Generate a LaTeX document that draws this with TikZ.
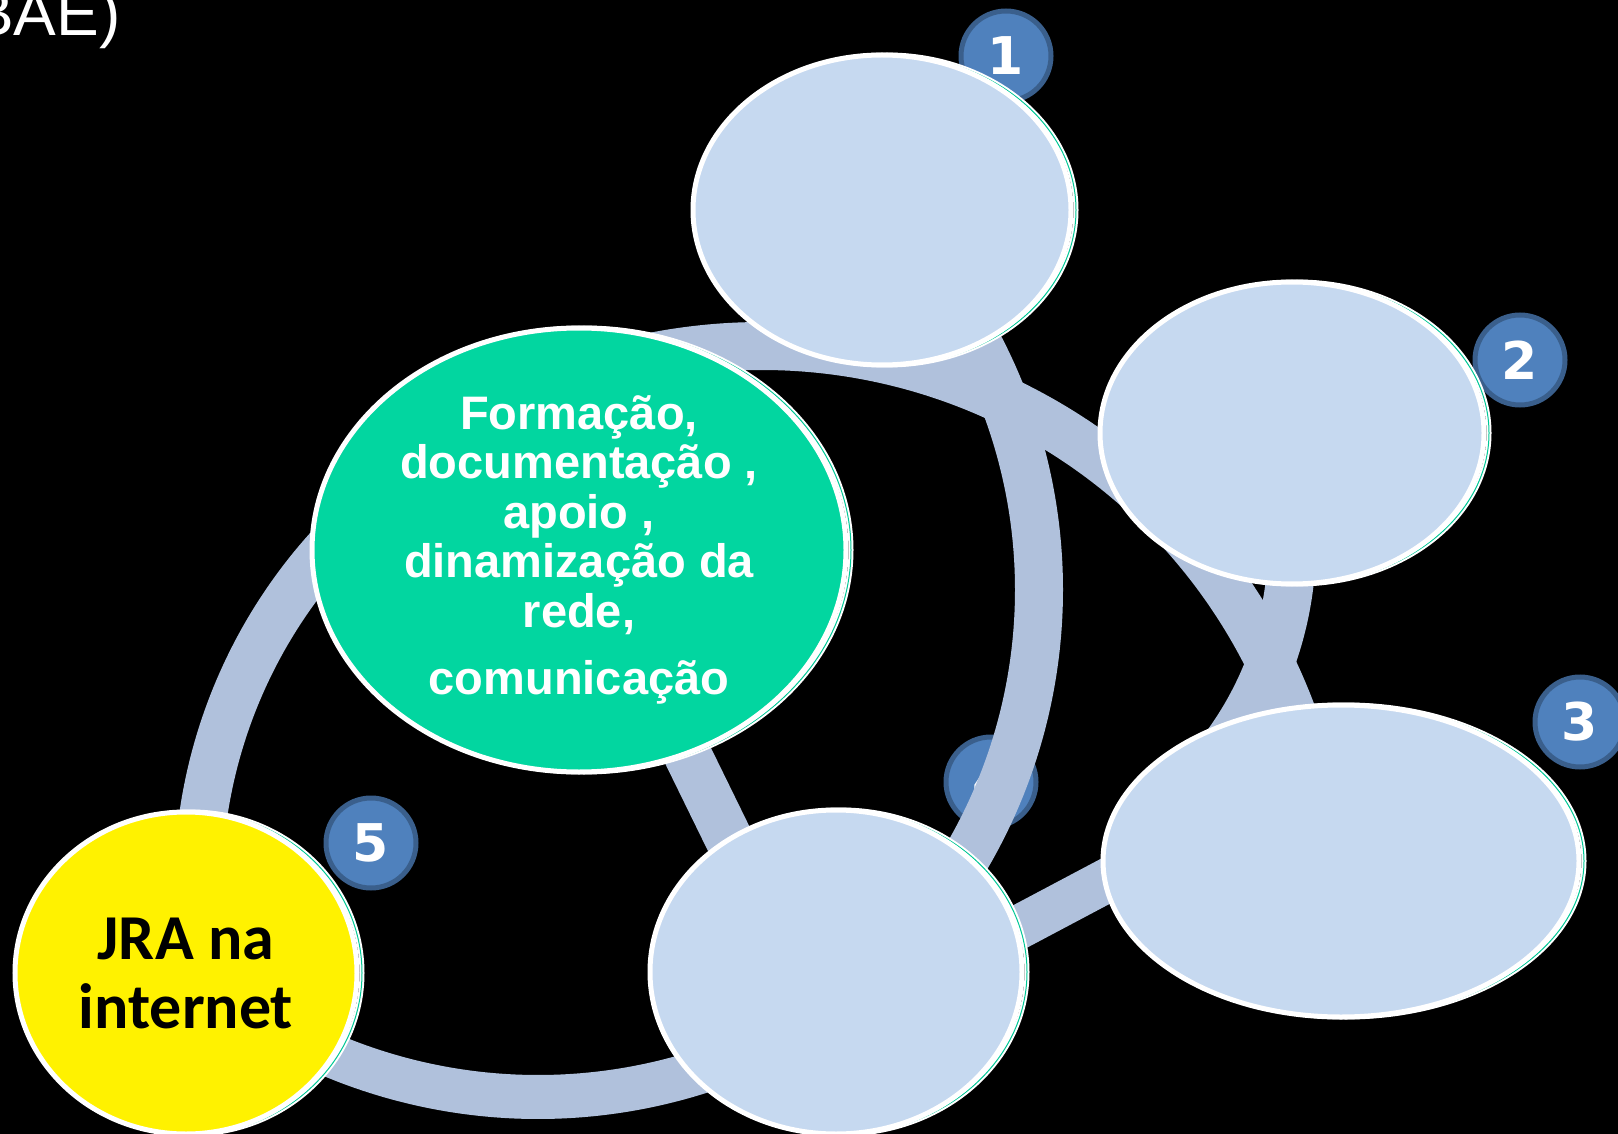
\documentclass[tikz,border=0pt]{standalone}
\usepackage{fontspec}
\setmainfont{Liberation Sans}
\newfontfamily\calibrifont{Carlito}
\newfontfamily\badgefont{DejaVu Sans}
\usetikzlibrary{shapes.geometric, calc}
\definecolor{ringblue}{RGB}{176, 193, 220}
\definecolor{cellblue}{RGB}{198, 217, 240}
\definecolor{hubgreen}{RGB}{2, 214, 160}
\definecolor{badgeblue}{RGB}{79, 129, 189}
\definecolor{badgeedge}{RGB}{58, 95, 140}
\definecolor{rimgreen}{RGB}{0, 200, 150}
\pgfdeclarelayer{back}
\pgfdeclarelayer{rings}
\pgfsetlayers{back,rings,main}

\begin{document}
\begin{tikzpicture}[x=0.5pt, y=-0.5pt,
    cell/.style={ellipse, draw=white, line width=2.5pt, inner sep=0pt, fill=cellblue,
      preaction={draw=white, double=rimgreen, line width=1pt, double distance=0.5pt,
        transform canvas={xshift=2.5pt}}},
    ring/.style={line width=24pt, ringblue},
    badge/.style={circle, draw=badgeedge, line width=2.5pt, fill=badgeblue, minimum size=45pt,
      inner sep=0pt, text=white, font=\badgefont\bfseries\fontsize{26}{26}\selectfont}]
  % Canvas
  \useasboundingbox (0, 0) rectangle (1618, 1134);
  \begin{pgfonlayer}{back}
    \fill[black] (0, 0) rectangle (1618, 1134);
  \end{pgfonlayer}

  % Title fragment, cut by the left edge
  \node[anchor=base east, inner sep=0pt, text=white, font=\fontsize{32}{38}\selectfont] (title) at (121, 36) {BAE)};

  % Cells
  \node[cell, minimum width=189pt, minimum height=155pt] (e1) at (882, 210) {};
  \node[cell, minimum width=192pt, minimum height=151pt] (e2) at (1292, 433) {};
  \node[cell, minimum width=238pt, minimum height=156pt] (e3) at (1341, 861) {};
  \node[cell, minimum width=186pt, minimum height=162pt] (e4) at (836, 972) {};
  \node[cell, fill=hubgreen, minimum width=267pt, minimum height=222pt, align=center, text=white,
    font=\bfseries\fontsize{23.5}{24.75}\selectfont] (hub) at (579, 550) {
    Formação,\\ documentação ,\\ apoio ,\\ dinamização da\\ rede,\\[9pt] comunicação};
  \node[cell, fill=yellow, minimum width=171pt, minimum height=161pt, align=center,
    font=\calibrifont\bfseries\fontsize{32}{34.5}\selectfont] (jra) at (186, 973) {JRA na\\ internet};

  % Step badges
  \begin{pgfonlayer}{back}
    \node[badge] (b1) at (1006, 56) {1};
    \node[badge] (b2) at (1520, 360) {2};
    \node[badge] (b3) at (1580, 722) {3};
    \node[badge] (b4) at (991, 782) {4};
    \node[badge] (b5) at (371, 843) {5};
  \end{pgfonlayer}

  % Rings between the cells
  \coordinate (ringA) at (762, 912);
  \coordinate (ringB) at (511, 590);
  \coordinate (ringC) at (949, 543);
  \coordinate (ringD) at (705, 888);
  \coordinate (ringE) at (538, 563);
  \begin{pgfonlayer}{rings}
    \draw[ring] (ringA) ++(115:283pt) arc[start angle=115, end angle=18, radius=283pt];
    \draw[ring] (ringB) ++(30:264pt) arc[start angle=30, end angle=-42, radius=264pt];
    \draw[ring] (ringC) ++(2:171.5pt) arc[start angle=2, end angle=-38, radius=171.5pt];
    \draw[ring] (ringD) ++(132:253.5pt) arc[start angle=132, end angle=185, radius=253.5pt];
    \draw[ring, line width=22pt] (ringE) ++(-118:267pt) arc[start angle=-118, end angle=-58, radius=267pt];
    \draw[ring] ($(hub.center)+(71, 128)$) -- ($(e4.center)+(-67, -51)$);
    \draw[ring, line width=22pt] ($(e4.center)+(119, -11)$) -- ($(e3.center)+(-171, -14)$);
  \end{pgfonlayer}
\end{tikzpicture}
\end{document}
